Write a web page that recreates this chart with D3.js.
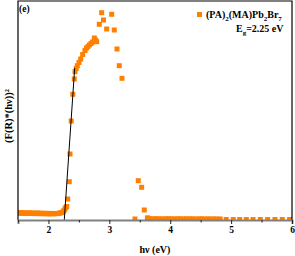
<!DOCTYPE html>
<html><head><meta charset="utf-8">
<script src="https://cdn.jsdelivr.net/npm/d3@7"></script>
<style>body{margin:0;background:#fff}svg{display:block}</style>
</head><body>
<script>
// ---- data ----
const xTicks = [2, 3, 4, 5, 6];
const xMinorTicks = [1.5, 2.5, 3.5, 4.5, 5.5];
const seriesName = "(PA)2(MA)Pb2Br7";
const bandGap = "2.25 eV";
const baseX = [1.50,1.52,1.54,1.56,1.58,1.60,1.62,1.64,1.66,1.68,1.70,1.72,1.74,1.76,1.78,1.80,1.82,1.84,1.86,1.88,1.90,1.92,1.94,1.96,1.98,2.00,2.02,2.04,2.06,2.08,2.10,2.12,2.14,2.16,2.18,2.20];
const baseY = [0.072,0.068,0.074,0.070,0.066,0.071,0.069,0.065,0.070,0.067,0.072,0.066,0.069,0.064,0.068,0.066,0.070,0.063,0.067,0.065,0.068,0.062,0.066,0.064,0.067,0.061,0.065,0.063,0.066,0.062,0.064,0.065,0.063,0.066,0.068,0.072];
const peakX = [2.22,2.24,2.255,2.27,2.285,2.30,2.316,2.342,2.354,2.374,2.400,2.424,2.436,2.456,2.474,2.502,2.530,2.562,2.600,2.625,2.649,2.674,2.699,2.723,2.753,2.773,2.792,2.835,2.874,2.904,2.956,3.039,3.081,3.126,3.163,3.208,3.421,3.475,3.531,3.574,3.626];
const peakY = [0.075,0.082,0.095,0.110,0.125,0.135,0.210,0.383,0.660,0.990,1.257,1.410,1.483,1.515,1.543,1.575,1.610,1.655,1.695,1.720,1.735,1.750,1.765,1.780,1.820,1.800,1.783,1.957,2.073,2.000,1.910,2.057,1.900,1.710,1.543,1.417,0.010,0.393,0.327,0.100,0.022];
const tailX = [3.67,3.72,3.77,3.82,3.87,3.92,3.97,4.02,4.07,4.12,4.17,4.22,4.27,4.32,4.37,4.42,4.47,4.52,4.57,4.62,4.67,4.72,4.77,4.82,4.92,5.035,5.14,5.25,5.36,5.48,5.60,5.72,5.84,5.96];
const tailY = [0.014,0.012,0.013,0.012,0.011,0.012,0.013,0.012,0.011,0.012,0.012,0.011,0.012,0.011,0.012,0.010,0.011,0.012,0.010,0.011,0.010,0.011,0.010,0.010,0.005,0.005,0.005,0.005,0.005,0.005,0.005,0.005,0.005,0.005];
const fitX = [2.26, 2.431];
const fitY = [0, 1.52];

// ---- layout ----
const W = 295, H = 256;
const m = {left: 18, right: 292, top: 1, bottom: 220};
const orange = "#ff8000";
const font = "'Liberation Serif','Times New Roman',serif";

const svg = d3.select("body").append("svg").attr("width", W).attr("height", H)
  .style("font-family", font);

const x = d3.scaleLinear().domain([1.5, 6]).range([m.left, m.right]);
const y = d3.scaleLinear().domain([0, 2.19]).range([m.bottom, m.top]);

svg.append("clipPath").attr("id", "clip").append("rect")
  .attr("x", m.left).attr("y", m.top).attr("width", m.right - m.left).attr("height", m.bottom - m.top);

const pts = [];
baseX.forEach((v, i) => pts.push([v, baseY[i]]));
peakX.forEach((v, i) => pts.push([v, peakY[i]]));
tailX.forEach((v, i) => pts.push([v, tailY[i]]));

const s = 5;
svg.append("g").attr("clip-path", "url(#clip)")
  .selectAll("rect").data(pts).join("rect")
  .attr("x", d => x(d[0]) - s / 2).attr("y", d => y(d[1]) - s / 2)
  .attr("width", s).attr("height", s).attr("fill", orange);

// fit line
svg.append("path")
  .datum(fitX.map((v, i) => [v, fitY[i]]))
  .attr("d", d3.line().x(d => x(d[0])).y(d => y(d[1])))
  .attr("stroke", "#000").attr("stroke-width", 1).attr("fill", "none");

// frame
svg.append("path")
  .attr("d", `M${m.left},${m.bottom}V${m.top}H${m.right}V${m.bottom}`)
  .attr("stroke", "#000").attr("stroke-width", 1.2).attr("fill", "none");

// x axis
const xAxis = d3.axisBottom(x).tickValues(xTicks).tickSize(4).tickPadding(2).tickFormat(d3.format("d"));
const gx = svg.append("g").attr("transform", `translate(0,${m.bottom})`).call(xAxis);
gx.select(".domain").attr("stroke", "#808080").attr("stroke-width", 2);
gx.selectAll(".tick line").attr("stroke", "#222").attr("stroke-width", 1);
gx.selectAll(".tick text").attr("font-family", font).attr("font-weight", "bold")
  .attr("font-size", 9.5).attr("fill", "#000");
const xMinor = d3.axisBottom(x).tickValues(xMinorTicks).tickSize(2.5).tickFormat("");
const gxm = svg.append("g").attr("transform", `translate(0,${m.bottom})`).call(xMinor);
gxm.select(".domain").remove();
gxm.selectAll(".tick line").attr("stroke", "#222");

// axis titles
svg.append("text").attr("x", 155).attr("y", 253).attr("text-anchor", "middle")
  .attr("font-weight", "bold").attr("font-size", 10).text("hν (eV)");
svg.append("text").attr("transform", "translate(12,116) rotate(-90)").attr("text-anchor", "middle")
  .attr("font-weight", "bold").attr("font-size", 10.5).text("(F(R)*(hν))²");

// panel label
svg.append("text").attr("x", 19).attr("y", 11.5).attr("font-weight", "bold").attr("font-size", 9.5).text("(e)");

// legend
svg.append("rect").attr("x", 197).attr("y", 12).attr("width", 5).attr("height", 5).attr("fill", orange);
const lt = svg.append("text").attr("x", 206).attr("y", 18).attr("font-weight", "bold").attr("font-size", 10);
const parts = seriesName.match(/[^0-9]+|[0-9]+/g);
let lowered = false;
parts.forEach(p => {
  if (/^[0-9]+$/.test(p)) {
    lt.append("tspan").attr("font-size", 7).attr("dy", 2.5).text(p);
    lowered = true;
  } else {
    lt.append("tspan").attr("dy", lowered ? -2.5 : 0).text(p);
    lowered = false;
  }
});
const eg = svg.append("text").attr("x", 236).attr("y", 32).attr("font-weight", "bold").attr("font-size", 10);
eg.append("tspan").text("E");
eg.append("tspan").attr("font-size", 7).attr("dy", 2.5).text("g");
eg.append("tspan").attr("dy", -2.5).text("=" + bandGap);
</script>
</body></html>
